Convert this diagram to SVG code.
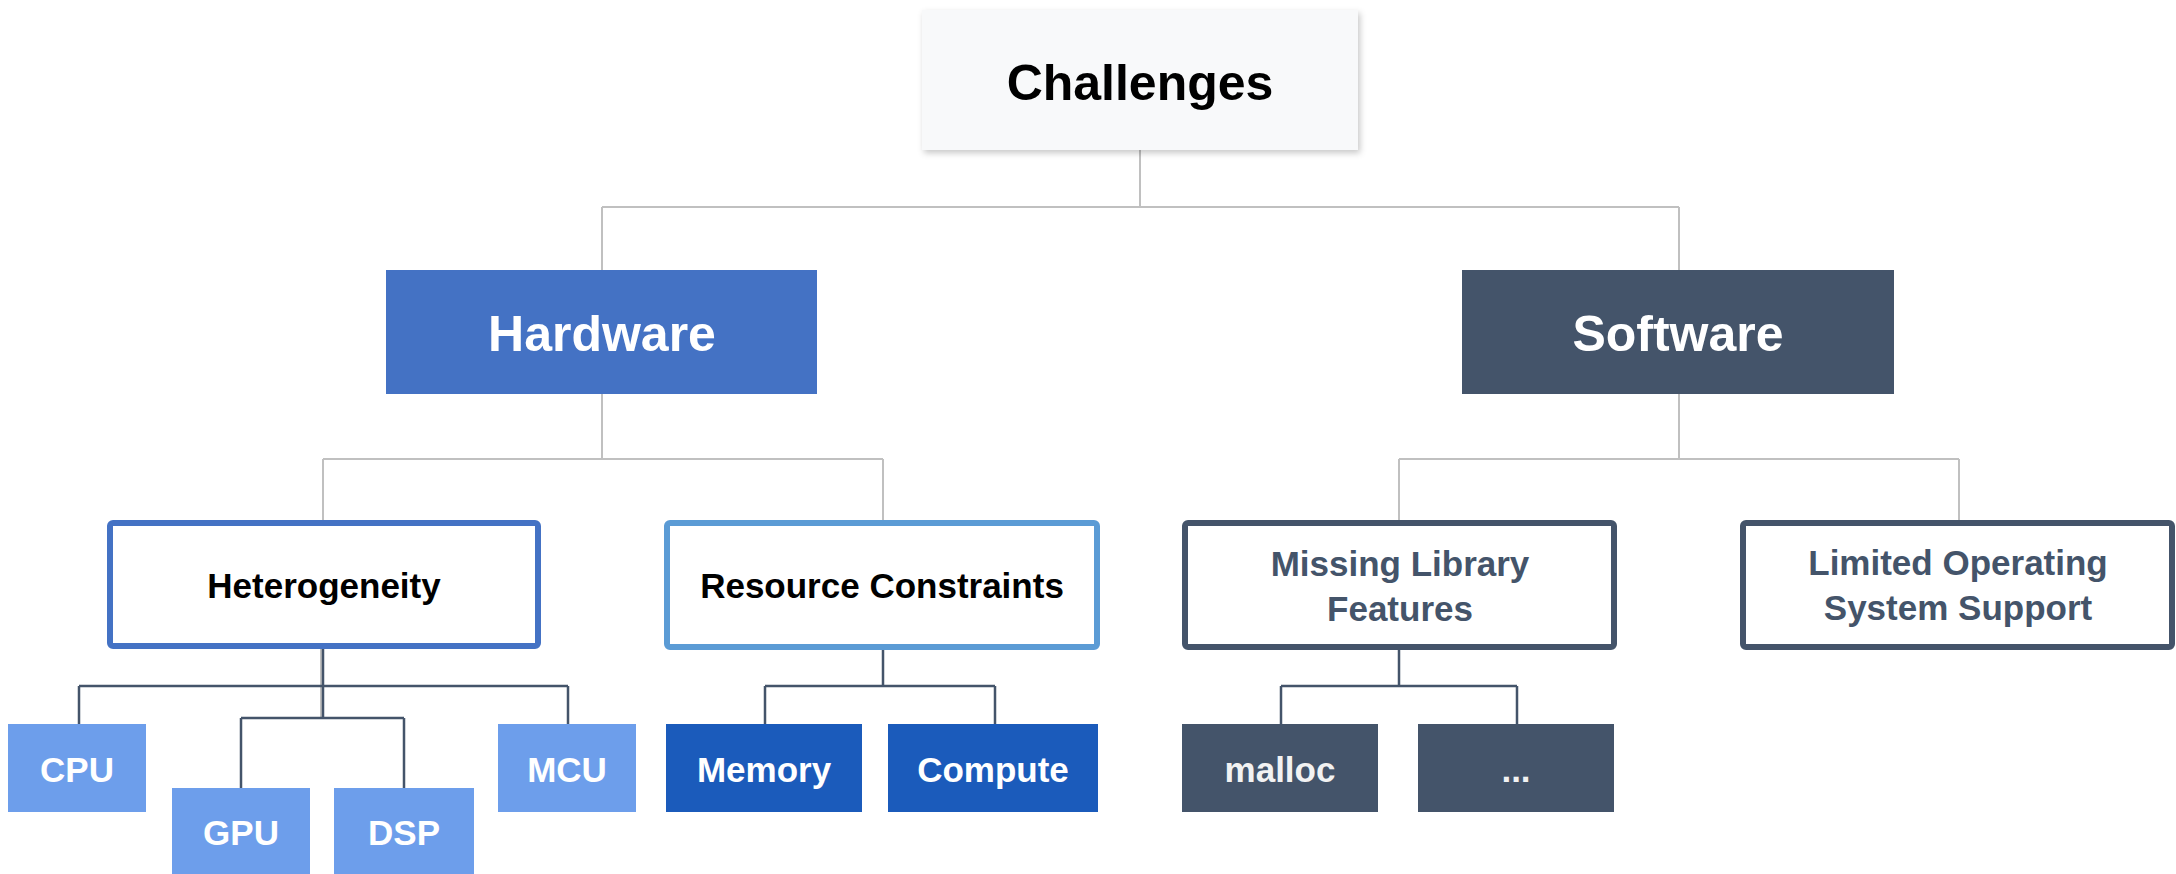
<svg xmlns="http://www.w3.org/2000/svg" width="2176" height="874" viewBox="0 0 2176 874">
  <defs>
    <filter id="shadow" x="-10%" y="-10%" width="120%" height="130%">
      <feDropShadow dx="2" dy="3" stdDeviation="3" flood-color="#000" flood-opacity="0.22"/>
    </filter>
  </defs>
  <style>
    text { font-family: "Liberation Sans", Arial, sans-serif; font-weight: bold; text-anchor: middle; }
    .big { font-size: 50px; }
    .mid { font-size: 35px; }
    .light { stroke: #c0c0c0; stroke-width: 2; fill: none; }
    .dark { stroke: #44546a; stroke-width: 2.5; fill: none; }
    .outline { fill: #ffffff; stroke-width: 6; }
    .white { fill: #ffffff; }
  </style>
  <rect width="2176" height="874" fill="#ffffff"/>

  <g id="connectors">
    <path class="light" d="M1140,150 V207 M602,207 H1679 M602,207 V270 M1679,207 V270"/>
    <path class="light" d="M602,394 V459 M323,459 H883 M323,459 V520 M883,459 V520"/>
    <path class="light" d="M1679,394 V459 M1399,459 H1959 M1399,459 V520 M1959,459 V520"/>
    <path class="light" d="M321,648 V717" stroke-width="1.5"/>
    <path class="dark" d="M323,648 V718 M79,686 H568 M79,686 V724 M568,686 V724 M241,718 H404 M241,718 V788 M404,718 V788"/>
    <path class="dark" d="M883,649 V686 M765,686 H995 M765,686 V724 M995,686 V724"/>
    <path class="dark" d="M1399,650 V686 M1281,686 H1517 M1281,686 V724 M1517,686 V724"/>
  </g>

  <g id="challenges">
    <rect x="922" y="10" width="436" height="140" fill="#f8f9fa" filter="url(#shadow)"/>
    <text class="big" x="1140" y="100" fill="#000000">Challenges</text>
  </g>

  <g id="hardware">
    <rect x="386" y="270" width="431" height="124" fill="#4472c4"/>
    <text class="big white" x="602" y="351">Hardware</text>
  </g>

  <g id="software">
    <rect x="1462" y="270" width="432" height="124" fill="#44546a"/>
    <text class="big white" x="1678" y="351">Software</text>
  </g>

  <g id="heterogeneity">
    <rect class="outline" x="110" y="523" width="428" height="123" rx="3" stroke="#4472c4"/>
    <text class="mid" x="324" y="598" fill="#000000">Heterogeneity</text>
  </g>

  <g id="resource-constraints">
    <rect class="outline" x="667" y="523" width="430" height="124" rx="3" stroke="#5b9bd5"/>
    <text class="mid" x="882" y="598" fill="#000000">Resource Constraints</text>
  </g>

  <g id="missing-library">
    <rect class="outline" x="1185" y="523" width="429" height="124" rx="3" stroke="#44546a"/>
    <text class="mid" x="1400" y="576" fill="#44546a">Missing Library</text>
    <text class="mid" x="1400" y="621" fill="#44546a">Features</text>
  </g>

  <g id="limited-os">
    <rect class="outline" x="1743" y="523" width="429" height="124" rx="3" stroke="#44546a"/>
    <text class="mid" x="1958" y="575" fill="#44546a">Limited Operating</text>
    <text class="mid" x="1958" y="620" fill="#44546a">System Support</text>
  </g>

  <g id="cpu">
    <rect x="8" y="724" width="138" height="88" fill="#6d9eeb"/>
    <text class="mid white" x="77" y="782">CPU</text>
  </g>

  <g id="gpu">
    <rect x="172" y="788" width="138" height="86" fill="#6d9eeb"/>
    <text class="mid white" x="241" y="845">GPU</text>
  </g>

  <g id="dsp">
    <rect x="334" y="788" width="140" height="86" fill="#6d9eeb"/>
    <text class="mid white" x="404" y="845">DSP</text>
  </g>

  <g id="mcu">
    <rect x="498" y="724" width="138" height="88" fill="#6d9eeb"/>
    <text class="mid white" x="567" y="782">MCU</text>
  </g>

  <g id="memory">
    <rect x="666" y="724" width="196" height="88" fill="#1b5bbb"/>
    <text class="mid white" x="764" y="782">Memory</text>
  </g>

  <g id="compute">
    <rect x="888" y="724" width="210" height="88" fill="#1b5bbb"/>
    <text class="mid white" x="993" y="782">Compute</text>
  </g>

  <g id="malloc">
    <rect x="1182" y="724" width="196" height="88" fill="#44546a"/>
    <text class="mid" x="1280" y="782" fill="#f2f2f2">malloc</text>
  </g>

  <g id="more">
    <rect x="1418" y="724" width="196" height="88" fill="#44546a"/>
    <text class="mid" x="1516" y="782" fill="#f2f2f2">...</text>
  </g>
</svg>
